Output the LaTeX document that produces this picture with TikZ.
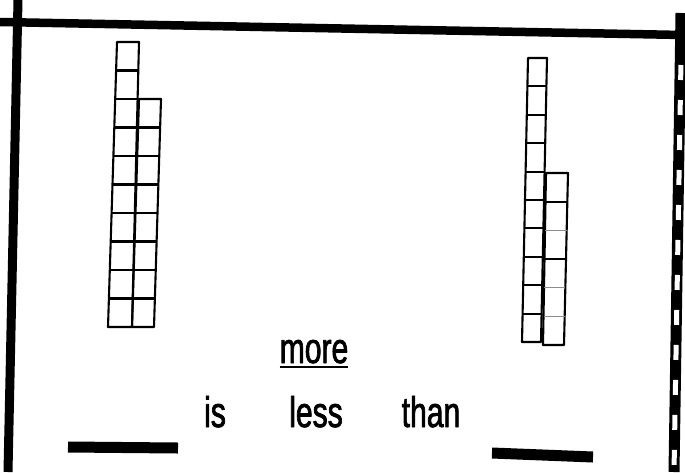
\documentclass[tikz,border=0pt]{standalone}
\usepackage{fontspec}
\newfontfamily\sheetfont[FakeStretch=0.7,FakeBold=1.6]{Liberation Sans}
\usetikzlibrary{calc}

\begin{document}
\begin{tikzpicture}[x=1pt,y=-1pt,line join=round,
  cube/.style={draw,line width=2.1pt},
  faint/.style={draw=black!45,line width=0.8pt},
  frame/.style={line width=8.5pt},
  blank/.style={line width=11pt},
  word/.style={font=\sheetfont\fontsize{43}{50}\selectfont,anchor=base,inner sep=0pt}]
\useasboundingbox (0,0) rectangle (685,472);
% frame of the sheet
\draw[frame] (0,22) -- (683,35);
\draw[frame,line width=9pt] (18,0) -- (8,472);
\draw[line width=11pt] (681,13) -- (674,472);
\draw[white,line width=5pt,dash pattern=on 15pt off 20pt,dash phase=-40pt] (681,60) -- (674,472);
% left tower: 10 and 8 cubes
\coordinate (la1) at (117,42);  \coordinate (lb1) at (139,42);
\coordinate (lc1) at (108,327); \coordinate (ld1) at (132,327);
\coordinate (la2) at (139,99);  \coordinate (lb2) at (161,99);
\coordinate (lc2) at (132,327); \coordinate (ld2) at (154,327);
\draw[cube] (la1) -- (lb1) -- (ld1) -- (lc1) -- cycle;
\foreach \i in {1,...,9}
  \draw[cube] ($(la1)!\i/10!(lc1)$) -- ($(lb1)!\i/10!(ld1)$);
\draw[cube] (la2) -- (lb2) -- (ld2) -- (lc2) -- cycle;
\foreach \i in {1,...,7}
  \draw[cube] ($(la2)!\i/8!(lc2)$) -- ($(lb2)!\i/8!(ld2)$);
% right tower: 10 and 6 cubes
\coordinate (ra1) at (528,58);  \coordinate (rb1) at (547,58);
\coordinate (rc1) at (522,342); \coordinate (rd1) at (541,342);
\coordinate (ra2) at (546,173); \coordinate (rb2) at (568,173);
\coordinate (rc2) at (543,345); \coordinate (rd2) at (564,345);
\draw[cube] (ra1) -- (rb1) -- (rd1) -- (rc1) -- cycle;
\foreach \i in {1,...,9}
  \draw[cube] ($(ra1)!\i/10!(rc1)$) -- ($(rb1)!\i/10!(rd1)$);
\draw[cube] (ra2) -- (rb2) -- (rd2) -- (rc2) -- cycle;
\foreach \i in {1,3}
  \draw[cube] ($(ra2)!\i/6!(rc2)$) -- ($(rb2)!\i/6!(rd2)$);
\foreach \i in {2,4,5}
  \draw[faint] ($(ra2)!\i/6!(rc2)$) -- ($(rb2)!\i/6!(rd2)$);
% words
\node[word] (more) at (314,363) {more};
\draw[line width=2pt] ([yshift=-4pt]more.base west) -- ([yshift=-4pt]more.base east);
\node[word] (is) at (215,427) {is};
\node[word] (less) at (316,427) {less};
\node[word] (than) at (431,427) {than};
% blanks
\draw[blank] (68,447) -- (178,448);
\draw[blank] (492,453) -- (593,457);
\end{tikzpicture}
\end{document}
